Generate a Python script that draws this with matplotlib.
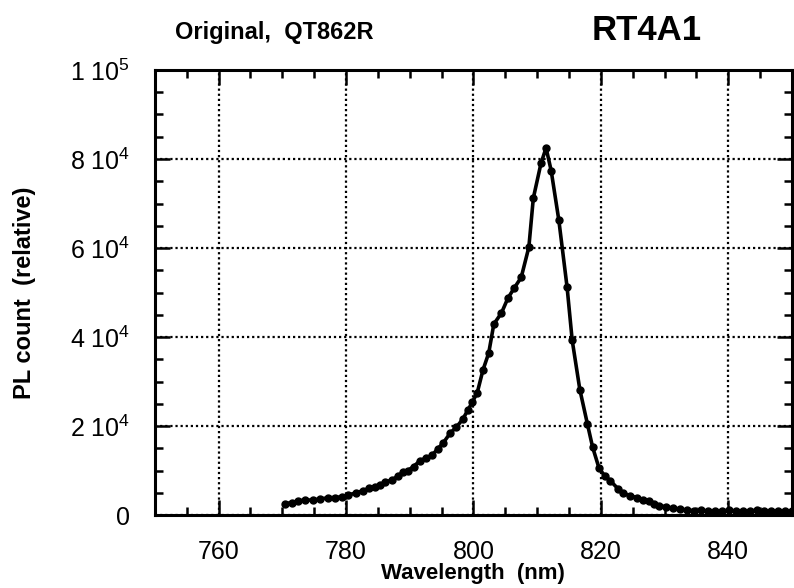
#!/usr/bin/env python3
# -*- coding: utf-8 -*-
"""PL spectrum RT4A1 - recreated plot."""

import matplotlib
matplotlib.use('Agg')
import matplotlib.pyplot as plt
from matplotlib.ticker import MultipleLocator, FuncFormatter

plt.rcParams['font.family'] = ['Liberation Sans', 'DejaVu Sans']
plt.rcParams['mathtext.fontset'] = 'custom'
plt.rcParams['mathtext.rm'] = 'Liberation Sans'
plt.rcParams['mathtext.it'] = 'Liberation Sans'

# Dados
comprimento_onda = [
    770.4, 771.6, 772.5, 773.5, 774.8, 775.9, 777.2, 778.2, 779.3, 780.3,
    781.6, 782.7, 783.6, 784.5, 785.3, 786.2, 787.2, 788.1, 788.9, 789.7,
    790.6, 791.6, 792.5, 793.5, 794.4, 795.2, 796.4, 797.3, 798.3, 799.1,
    799.8, 800.6, 801.5, 802.4, 803.2, 804.4, 805.4, 806.4, 807.5, 808.7,
    809.4, 810.6, 811.4, 812.2, 813.4, 814.7, 815.5, 816.7, 817.9, 818.7,
    819.7, 820.6, 821.5, 822.7, 823.5, 824.5, 825.6, 826.6, 827.5, 828.4,
    829.2, 830.3, 831.3, 832.4, 833.5, 834.6, 835.7, 836.8, 837.9, 839.0,
    840.1, 841.2, 842.3, 843.4, 844.5, 845.6, 846.7, 847.8, 848.9, 850.0,
]
contagem_pl = [
    2600, 2800, 3200, 3350, 3400, 3600, 3900, 3950, 4100, 4500,
    5000, 5500, 6000, 6300, 6800, 7400, 7900, 8700, 9600, 10000,
    10900, 12200, 12800, 13400, 14900, 16100, 18500, 19700, 21500, 23500,
    25300, 27500, 32600, 36400, 42900, 45400, 48700, 51000, 53400, 60200,
    71200, 79000, 82500, 77400, 66300, 51200, 39300, 28200, 20400, 15300,
    10600, 8800, 7700, 5900, 4900, 4400, 3950, 3500, 3150, 2600,
    2050, 1900, 1500, 1400, 1100, 1000, 1100, 900, 1000, 900,
    1100, 900, 1000, 900, 1100, 900, 1000, 900, 1000, 900,
]

ticks_x = [760, 780, 800, 820, 840]
ticks_y = [0, 20000, 40000, 60000, 80000, 100000]


def rotulo_y(valor, pos):
    """Formata 8e4 como '8 10^4'"""
    if valor == 0:
        return '0'
    expoente = len(str(int(valor))) - 1
    mantissa = int(round(valor / 10 ** expoente))
    return f'{mantissa} 10$^{{{expoente}}}$'


fig = plt.figure(figsize=(7.94, 5.88), dpi=100)
ax = fig.add_axes([0.195, 0.124, 0.8025, 0.757])

ax.plot(comprimento_onda, contagem_pl, 'k-', linewidth=2.6,
        marker='o', markersize=5, zorder=3)

ax.set_xlim(750, 850)
ax.set_ylim(0, 100000)
ax.set_xticks(ticks_x)
ax.set_yticks(ticks_y)
ax.xaxis.set_minor_locator(MultipleLocator(5))
ax.yaxis.set_minor_locator(MultipleLocator(5000))
ax.yaxis.set_major_formatter(FuncFormatter(rotulo_y))

ax.grid(True, which='major', color='black', linestyle=(0, (1, 1.3)),
        linewidth=1.6)

for lado in ax.spines.values():
    lado.set_linewidth(2.2)

ax.tick_params(which='both', direction='in', top=True, right=True,
               width=1.8, labelsize=18)
ax.tick_params(which='major', length=11)
ax.tick_params(which='minor', length=6)
ax.tick_params(axis='x', which='major', pad=18)
ax.tick_params(axis='y', which='major', pad=18)

ax.set_xlabel('Wavelength  (nm)', fontsize=16, fontweight='bold')
ax.set_ylabel('PL count  (relative)', fontsize=17, fontweight='bold')
ax.xaxis.set_label_coords(0.5, -0.108)
ax.yaxis.set_label_coords(-0.187, 0.5)

fig.text(0.22, 0.945, 'Original,  QT862R', fontsize=17, fontweight='bold',
         va='center', ha='left')
fig.text(0.745, 0.948, 'RT4A1', fontsize=25, fontweight='bold',
         va='center', ha='left')

plt.savefig('out.png', dpi=100)
plt.close()
